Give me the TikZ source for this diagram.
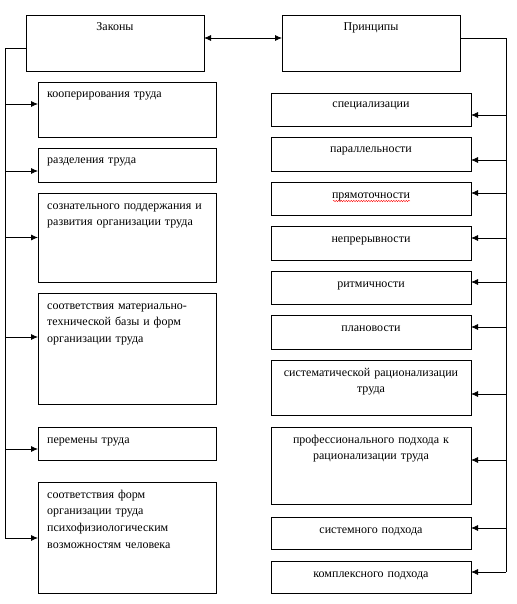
\documentclass[tikz,border=0pt]{standalone}
\usepackage{fontspec}
\setmainfont{Liberation Serif}
\usetikzlibrary{arrows.meta,calc,decorations.pathmorphing}

\begin{document}
\begin{tikzpicture}[x=1pt, y=-1pt,
  box/.style={draw, line width=0.8pt, inner sep=0pt, outer sep=0pt, anchor=north west, minimum width=178pt},
  rbox/.style={box, minimum width=200pt},
  ltxt/.style={anchor=base west, inner sep=0pt, text width=172pt, align=left},
  ctxt/.style={anchor=base, inner sep=0pt, text width=196pt, align=center},
  arr/.style={-{Latex[length=7pt,width=6pt]}, line width=0.8pt},
  every node/.style={font=\fontsize{12}{16.7}\selectfont}
]
\useasboundingbox (0,0) rectangle (516,604);

% Header
\node[box, minimum height=56pt] (zak) at (26,15) {};
\node[ctxt] (zakt) at ([shift={(0,16)}]zak.north) {Законы};
\node[box, minimum height=56pt] (prin) at (282,15) {};
\node[ctxt] (print) at ([shift={(0,16)}]prin.north) {Принципы};

% Laws
\node[box, minimum height=55pt] (coop) at (38,82) {};
\node[ltxt] (coopt) at ([shift={(9,16)}]coop.north west) {кооперирования труда};
\node[box, minimum height=34pt] (div) at (38,148) {};
\node[ltxt] (divt) at ([shift={(9,16)}]div.north west) {разделения труда};
\node[box, minimum height=89pt] (cons) at (38,193) {};
\node[ltxt] (const) at ([shift={(9,16)}]cons.north west) {сознательного поддержания и\\развития организации труда};
\node[box, minimum height=111pt] (mat) at (38,293) {};
\node[ltxt] (matt) at ([shift={(9,16)}]mat.north west) {соответствия материально-\\технической базы и форм\\организации труда};
\node[box, minimum height=33pt] (chg) at (38,427) {};
\node[ltxt] (chgt) at ([shift={(9,16)}]chg.north west) {перемены труда};
\node[box, minimum height=111pt] (psy) at (38,482) {};
\node[ltxt] (psyt) at ([shift={(9,16)}]psy.north west) {соответствия форм\\организации труда\\психофизиологическим\\возможностям человека};

% Principles
\node[rbox, minimum height=33pt] (spec) at (271,93) {};
\node[ctxt] (spect) at ([shift={(0,15)}]spec.north) {специализации};
\node[rbox, minimum height=34pt] (par) at (271,137) {};
\node[ctxt] (part) at ([shift={(0,16)}]par.north) {параллельности};
\node[rbox, minimum height=33pt] (dir) at (271,182) {};
\node[ctxt] (dirt) at ([shift={(0,16)}]dir.north) {прямоточности};
\node[rbox, minimum height=34pt] (cont) at (271,226) {};
\node[ctxt] (contt) at ([shift={(0,16)}]cont.north) {непрерывности};
\node[rbox, minimum height=33pt] (rhy) at (271,271) {};
\node[ctxt] (rhyt) at ([shift={(0,16)}]rhy.north) {ритмичности};
\node[rbox, minimum height=34pt] (plan) at (271,315) {};
\node[ctxt] (plant) at ([shift={(0,16)}]plan.north) {плановости};
\node[rbox, minimum height=55pt] (sysr) at (271,360) {};
\node[ctxt] (sysrt) at ([shift={(0,16)}]sysr.north) {систематической рационализации\\труда};
\node[rbox, minimum height=77pt] (prof) at (271,427) {};
\node[ctxt] (proft) at ([shift={(0,16)}]prof.north) {профессионального подхода к\\рационализации труда};
\node[rbox, minimum height=32pt] (sysa) at (271,517) {};
\node[ctxt] (sysat) at ([shift={(0,16)}]sysa.north) {системного подхода};
\node[rbox, minimum height=32pt] (cplx) at (271,561) {};
\node[ctxt] (cplxt) at ([shift={(0,16)}]cplx.north) {комплексного подхода};

% spell-check mark
\draw[red, line width=0.4pt, decorate, decoration={snake, amplitude=0.7pt, segment length=2.5pt}]
  ($(dir.north)+(-38,19)$) -- ($(dir.north)+(39,19)$);

% Connectors
\draw[arr, {Latex[length=7pt,width=6pt]}-{Latex[length=7pt,width=6pt]}] ([yshift=5pt]zak.east) -- ([yshift=5pt]prin.west);
\coordinate (lbus) at (5,538);
\coordinate (rbus) at (506,572);
\draw[line width=0.8pt] ([yshift=-5pt]zak.west) -| (lbus);
\draw[line width=0.8pt] ([yshift=5pt]prin.east) -| (rbus);
\foreach \n/\s in {coop/-5.5, div/6, cons/0, mat/-11.5, chg/5.5, psy/0.5} {
  \coordinate (\n-in) at ($(\n.west)+(0,\s)$);
  \draw[arr] (lbus |- \n-in) -- (\n-in);
}
\foreach \n/\s in {spec/5.5, par/6, dir/-5.5, cont/-5, rhy/-5.5, plan/-5, sysr/6.5, prof/-5.5, sysa/-5, cplx/-5} {
  \coordinate (\n-in) at ($(\n.east)+(0,\s)$);
  \draw[arr] (rbus |- \n-in) -- (\n-in);
}

\end{tikzpicture}
\end{document}
